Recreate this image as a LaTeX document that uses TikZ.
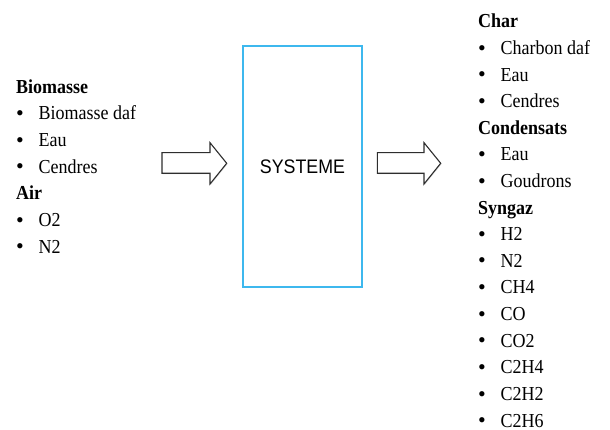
\documentclass[tikz,border=0pt]{standalone}
\usepackage{graphicx}
\usepackage{fontspec}
\usetikzlibrary{shadows}
\setmainfont{Liberation Serif}
\newfontfamily\arialfont{Liberation Sans}
\definecolor{sysblue}{HTML}{3DB8EE}
\definecolor{arrowgray}{HTML}{2E2E2E}
\newcommand\vstretch[1]{\scalebox{1}[1.1]{#1}}
\newcommand\mybullet{\raisebox{-0.6pt}{\fontsize{22}{22}\selectfont •}}
\newcommand\myitem[1]{\makebox[22.5pt][l]{\mybullet}\vstretch{#1}}
\begin{document}
\begin{tikzpicture}[x=1pt,y=-1pt,
  title/.style={anchor=base west, inner sep=0pt, font=\bfseries\fontsize{18}{20}\selectfont},
  item/.style={anchor=base west, inner sep=0pt, font=\fontsize{18}{20}\selectfont},
  softshadow/.style={drop shadow={shadow xshift=0.8pt, shadow yshift=-0.8pt, opacity=0.25, fill=black!60}},
  blockarrow/.style={draw=arrowgray, fill=white, line width=1.1pt, line join=miter, softshadow}]
\useasboundingbox (0,0) rectangle (610,430);
% system box
\node[draw=sysblue, fill=white, line width=1.4pt, minimum width=119pt, minimum height=241pt, inner sep=0pt,
      softshadow, font=\arialfont\fontsize{17.8}{20}\selectfont] (sys) at (302.5,166.5) {\vstretch{SYSTEME}};
% block arrows
\draw[blockarrow] (162,152.7) -- (210,152.7) -- (210,142.7) -- (226.7,163.3) -- (210,184) -- (210,173.3) -- (162,173.3) -- cycle;
\draw[blockarrow] (377.3,152.7) -- (424,152.7) -- (424,142.7) -- (440.7,163.3) -- (424,184) -- (424,173.3) -- (377.3,173.3) -- cycle;
% inputs
\node[title] (biom) at (16,93.3) {\vstretch{Biomasse}};
\node[item] (bdaf) at (16,120) {\myitem{Biomasse daf}};
\node[item] (beau) at (16,146.7) {\myitem{Eau}};
\node[item] (bcen) at (16,173.3) {\myitem{Cendres}};
\node[title] (air) at (16,200) {\vstretch{Air}};
\node[item] (ao2) at (16,226.7) {\myitem{O2}};
\node[item] (an2) at (16,253.3) {\myitem{N2}};
% outputs
\node[title] (char) at (478,28) {\vstretch{Char}};
\node[item] (cdaf) at (478,54.6) {\myitem{Charbon daf}};
\node[item] (ceau) at (478,81.2) {\myitem{Eau}};
\node[item] (ccen) at (478,107.8) {\myitem{Cendres}};
\node[title] (cond) at (478,134.4) {\vstretch{Condensats}};
\node[item] (deau) at (478,161) {\myitem{Eau}};
\node[item] (dgou) at (478,187.6) {\myitem{Goudrons}};
\node[title] (syn) at (478,214.2) {\vstretch{Syngaz}};
\node[item] (sh2) at (478,240.8) {\myitem{H2}};
\node[item] (sn2) at (478,267.4) {\myitem{N2}};
\node[item] (sch4) at (478,294) {\myitem{CH4}};
\node[item] (sco) at (478,320.6) {\myitem{CO}};
\node[item] (sco2) at (478,347.2) {\myitem{CO2}};
\node[item] (sc2h4) at (478,373.8) {\myitem{C2H4}};
\node[item] (sc2h2) at (478,400.4) {\myitem{C2H2}};
\node[item] (sc2h6) at (478,427) {\myitem{C2H6}};
\end{tikzpicture}
\end{document}
